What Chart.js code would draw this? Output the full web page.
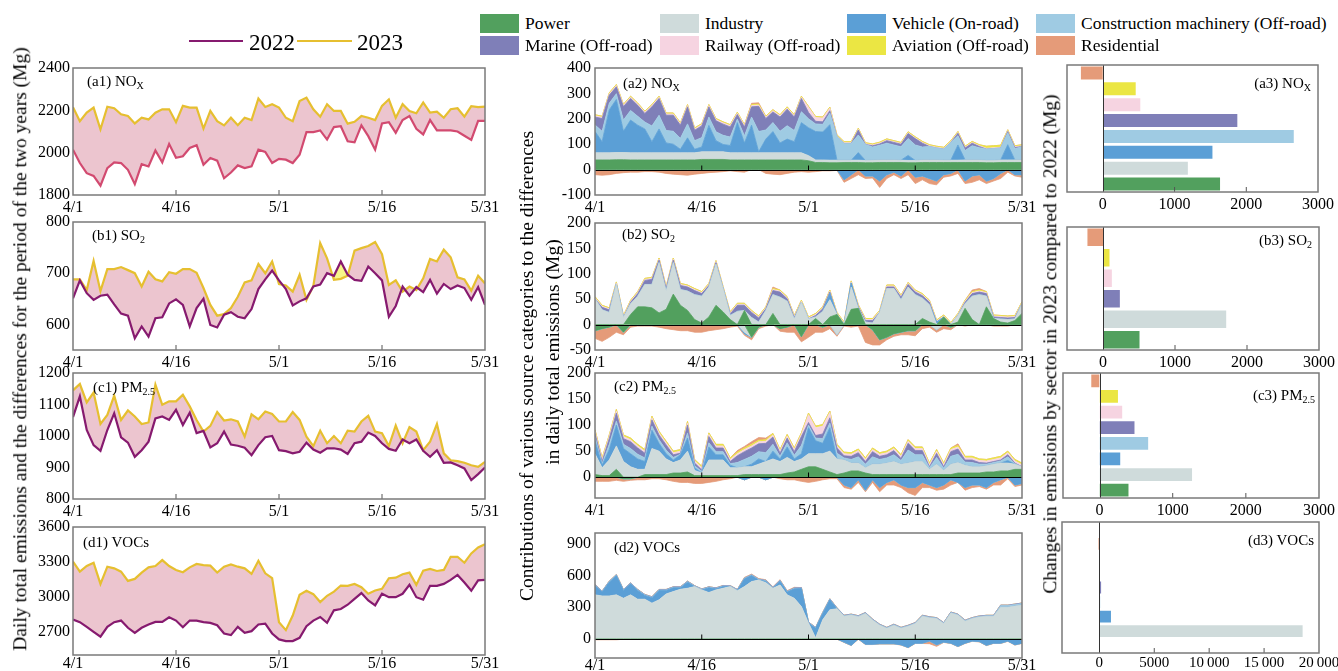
<!DOCTYPE html>
<html><head><meta charset="utf-8">
<script src="https://cdn.jsdelivr.net/npm/chart.js@4.4.1/dist/chart.umd.min.js"></script>
<style>
html,body{margin:0;padding:0;background:#fff;}
body{width:1338px;height:671px;position:relative;overflow:hidden;font-family:'Liberation Serif','Times New Roman',serif;color:#000;}
canvas{position:absolute;}
.lbl{position:absolute;font-size:15px;white-space:nowrap;line-height:1;transform:translateY(-50%);}
.lbl.r{transform:translate(-100%,-50%);}
.lbl sub{font-size:10px;vertical-align:-3px;line-height:0;}
.rot{position:absolute;white-space:nowrap;font-size:19.5px;line-height:1;transform:translate(-50%,-50%) rotate(-90deg);}
.lg{position:absolute;font-size:17.5px;white-space:nowrap;line-height:1;}
.lgbox{position:absolute;width:39px;height:19px;}
.yl{position:absolute;height:0;border-top:2.5px solid;}
.yt{position:absolute;font-size:23px;line-height:1;transform:translateY(-50%);}
</style>
</head><body>
<script>
// ---------- categories / tick labels ----------
const X_TICK_POS = [0, 15, 30, 45, 60];
const X_TICK_LBL = ['4/1', '4/16', '5/1', '5/16', '5/31'];
const SECTORS = ['Power','Industry','Vehicle (On-road)','Construction machinery (Off-road)','Marine (Off-road)','Railway (Off-road)','Aviation (Off-road)','Residential'];
const SECTOR_COLORS = ['#52a05e','#cfdbdb','#5b9fd6','#9fcbe3','#7f7fb8','#f6d4e1','#ebe643','#e59b79'];

// ---------- daily totals (Mg) ----------
const NOX_2022 = [2014,1951,1903,1890,1844,1927,1954,1951,1919,1851,1946,1935,2010,1954,2041,1976,1983,2022,2035,1943,1975,1962,1879,1906,1940,1927,1935,2014,2003,1951,1971,1967,1951,1990,2097,2097,2105,2062,2121,2125,2054,2049,2129,2078,2014,2138,2144,2094,2154,2173,2113,2086,2154,2105,2105,2105,2100,2080,2060,2150,2150];
const NOX_2023 = [2215,2149,2189,2213,2110,2217,2210,2181,2173,2138,2165,2157,2189,2205,2205,2144,2221,2213,2213,2114,2197,2149,2129,2165,2130,2165,2154,2256,2216,2229,2213,2165,2149,2244,2260,2205,2170,2229,2197,2197,2137,2146,2173,2165,2154,2221,2252,2165,2229,2197,2186,2237,2189,2194,2165,2205,2210,2170,2220,2215,2218];
const SO2_2022 = [651,686,661,648,656,658,639,621,617,573,596,576,612,614,641,649,638,596,632,650,599,594,619,624,615,612,630,669,688,705,686,669,637,645,651,674,678,700,695,723,697,687,685,713,700,686,615,636,674,656,673,663,687,660,679,669,676,671,648,673,638];
const SO2_2023 = [688,688,667,724,665,708,708,712,706,700,674,703,688,684,702,699,708,708,701,671,638,617,620,632,654,682,686,718,700,723,679,676,664,697,648,675,759,729,687,689,695,744,749,753,761,737,677,686,664,674,667,690,728,723,746,731,692,688,666,695,680];
const PM_2022 = [1060,1126,1019,971,953,1019,1072,996,979,934,955,982,1056,1062,1051,1083,1035,1074,1009,1016,964,977,1014,973,969,963,939,971,996,1000,955,952,945,950,979,957,947,961,961,957,943,977,982,1011,1000,977,959,953,989,977,989,953,934,955,915,916,907,897,860,879,900];
const PM_2023 = [1145,1165,1107,1138,1038,1067,1128,1051,1081,1062,1038,1043,1163,1099,1110,1110,1131,1094,1051,1014,1032,1076,1049,1053,1046,998,1069,1053,1078,1070,1046,1046,1076,1051,998,968,1017,977,1000,977,1017,1014,1046,1064,1014,1009,968,1033,977,1028,1014,955,982,1038,945,923,920,915,907,902,918];
const VOC_2022 = [2805,2782,2742,2699,2657,2742,2782,2796,2734,2690,2734,2762,2784,2784,2824,2796,2739,2796,2796,2782,2776,2756,2685,2671,2742,2690,2705,2762,2770,2685,2634,2620,2620,2648,2748,2796,2827,2776,2884,2895,2932,2983,3032,2969,2927,3026,2997,2997,3026,3103,2997,2975,3094,3094,3111,3145,3188,3123,3052,3142,3145];
const VOC_2023 = [3302,3216,3265,3293,3111,3259,3245,3216,3137,3154,3208,3253,3265,3316,3265,3231,3211,3253,3282,3273,3268,3208,3259,3279,3259,3245,3197,3310,3202,3160,2782,2714,2839,3018,3052,3023,2955,3009,3045,3097,3094,3111,3083,3026,3054,3069,3160,3165,3194,3208,3103,3225,3239,3222,3231,3344,3344,3293,3373,3424,3452];

// ---------- daily sector contributions to the differences (Mg) ----------
const NOX_POWER = [38,38,38,39,39,38,38,38,38,38,38,38,38,38,38,40,40,40,40,38,38,38,38,38,38,38,38,38,38,38,35,28,28,27,27,28,28,28,27,27,28,28,28,28,27,27,28,28,28,28,28,28,28,28,28,27,27,28,28,28,28];
const NOX_IND = [28,28,28,28,28,28,28,28,28,28,28,28,28,28,28,30,30,30,30,28,28,28,28,28,28,28,28,28,28,28,20,10,10,10,10,9,9,9,9,10,10,10,10,9,9,9,10,10,10,9,9,9,10,10,10,9,9,10,10,10,10];
const NOX_VEH = [84,44,169,209,84,129,109,94,44,94,39,34,14,59,14,19,104,44,29,29,119,39,109,4,54,84,39,54,44,119,110,112,110,140,0,-40,-20,30,-25,-25,-45,-20,-10,-25,20,-30,-25,-35,-45,-20,-15,60,-45,-25,-20,-45,-35,-15,60,-20,-20];
const NOX_CON = [26,41,26,23,44,38,35,27,62,54,49,51,43,55,34,37,33,35,36,33,14,28,32,80,36,35,46,53,44,43,35,30,30,45,93,66,66,69,63,52,58,66,59,53,66,61,51,53,47,44,70,36,37,56,48,45,47,47,47,44,53];
const NOX_MAR = [31,50,32,27,53,47,43,34,75,66,60,63,52,67,41,46,40,43,44,40,18,35,40,99,45,42,56,65,53,52,25,10,10,10,0,0,0,20,0,5,5,10,10,10,20,25,15,0,0,0,0,10,10,10,5,0,0,0,5,5,0];
const NOX_RAIL = [5,5,5,5,5,5,5,5,5,5,5,5,5,5,5,5,5,5,5,5,5,5,5,5,5,5,5,5,5,5,20,15,15,10,3,3,3,3,3,3,3,3,3,3,3,3,3,3,3,3,3,3,3,3,3,3,3,3,3,3,3];
const NOX_AVI = [4,4,4,4,4,4,4,4,4,4,4,4,4,4,4,4,4,4,4,4,4,4,4,4,4,4,4,4,4,4,4,4,4,4,4,4,4,4,4,4,4,4,4,4,4,4,4,4,4,4,4,4,4,4,4,8,8,8,4,4,4];
const NOX_RES = [-20,-22,-20,-15,-12,-10,-10,-8,-8,-10,-15,-18,-20,-22,-18,-15,-12,-10,-8,-5,-8,-10,5,5,-15,-18,-20,-15,-10,-8,-10,-8,-5,-5,-3,-10,-15,-20,-10,-8,-25,-15,-10,-10,-20,-25,-15,-20,-15,-10,-10,-15,-10,-25,-20,-10,-10,-20,-10,-5,-10];

const SO2_POWER = [-12,-8,-5,0,-15,20,35,35,33,23,30,60,38,28,10,3,15,38,25,10,0,28,-25,-5,0,22,-8,-5,0,-24,0,12,-5,15,20,0,30,32,0,-10,-30,-25,-18,-15,-12,-12,12,5,0,15,-5,5,32,10,0,35,12,5,3,8,22];
const SO2_IND = [51,29,24,80,14,21,21,44,46,99,36,62,31,38,49,53,59,81,46,8,26,-15,14,5,28,37,54,46,11,44,11,3,26,34,-20,1,44,0,5,3,24,71,71,49,74,59,40,34,-10,0,0,13,9,46,59,21,0,6,7,3,19];
const SO2_VEH = [0,0,0,0,0,0,0,0,0,0,0,0,0,0,0,0,0,0,0,0,0,-3,0,0,0,0,0,0,0,0,0,0,0,12,0,0,8,0,0,0,0,0,0,0,0,0,0,0,5,0,0,0,0,0,0,0,0,0,0,0,0];
const SO2_CON = [0,0,0,0,0,0,0,0,0,0,0,0,0,0,0,0,0,0,0,0,0,0,0,0,0,0,0,0,0,0,0,0,0,0,0,0,0,0,0,0,0,0,0,0,0,0,0,0,0,0,0,0,0,0,0,0,0,0,0,0,0];
const SO2_MAR = [0,5,5,0,0,3,5,8,10,5,5,5,8,8,8,5,3,3,0,3,12,10,10,8,3,8,10,5,3,0,0,3,5,3,0,0,0,3,3,5,0,3,3,5,5,5,5,5,0,0,0,0,3,5,5,5,3,3,3,3,0];
const SO2_RAIL = [2,2,2,2,2,2,2,2,2,2,2,2,2,2,2,2,2,2,2,2,2,2,2,2,2,2,2,2,2,2,2,2,2,2,2,2,2,2,2,2,2,2,2,2,2,2,2,2,2,2,2,2,2,2,2,2,2,2,2,2,2];
const SO2_AVI = [2,2,2,2,2,2,2,2,2,2,2,2,2,2,2,2,2,2,2,2,2,2,2,2,2,2,2,2,2,2,2,2,2,2,2,2,2,2,2,2,2,2,2,2,2,2,2,2,2,2,2,2,2,2,2,2,2,2,2,2,2];
const SO2_RES = [-15,-25,-20,-15,-5,-5,-3,-3,-3,-5,-8,-10,-12,-12,-15,-15,-12,-10,-8,-5,-3,-3,-5,-3,-3,3,-5,-10,-15,-10,-25,-15,-10,-8,-3,-3,-5,-3,-35,-30,-10,-5,-5,-5,-8,-10,-8,-5,-5,-8,-5,0,-3,3,3,0,-3,-3,-3,0,0];

const PM_POWER = [5,3,3,15,-3,-3,0,5,5,5,5,8,8,10,3,3,3,3,3,3,3,5,5,5,5,5,5,8,10,15,20,20,15,10,5,8,12,12,8,5,5,5,5,5,5,5,5,5,5,5,5,8,8,8,8,10,10,12,12,15,15];
const PM_IND = [40,15,30,45,30,20,15,10,50,45,30,20,25,40,10,5,30,30,30,15,15,15,15,20,25,30,25,30,20,20,25,25,30,40,30,25,15,15,10,20,20,22,25,20,22,25,25,10,20,8,20,20,15,12,12,12,15,15,15,10,5];
const PM_VEH = [25,5,20,40,25,25,20,15,35,15,10,5,10,25,5,0,25,10,10,5,0,-5,5,10,-5,15,5,20,5,10,50,25,20,45,0,-15,-20,-5,-25,-5,-20,-10,-5,-15,-20,-20,-10,-15,-20,-15,-5,-10,-20,-15,-15,-20,-10,-5,5,-15,-12];
const PM_CON = [7,3,10,8,8,10,9,7,8,7,7,5,1,10,4,3,8,6,6,3,10,14,15,14,17,13,5,8,7,16,5,5,9,9,11,4,7,12,7,14,9,10,13,7,25,13,13,3,13,4,15,16,6,8,5,3,3,4,7,1,0];
const PM_MAR = [7,4,11,15,11,13,12,9,12,9,10,5,2,15,5,3,12,7,7,4,13,15,16,15,18,14,6,9,7,17,5,5,9,10,10,4,6,8,5,10,6,6,8,4,13,8,8,2,8,3,9,10,4,5,3,2,2,2,4,1,0];
const PM_RAIL = [4,4,4,4,4,4,4,4,4,4,4,4,4,4,4,4,4,4,4,4,4,4,4,4,4,4,4,4,4,4,15,15,15,10,4,4,4,4,4,4,4,4,4,4,4,4,4,4,4,4,4,4,4,4,4,4,4,4,4,4,4];
const PM_AVI = [3,3,3,3,3,3,3,3,3,3,3,3,3,3,3,3,3,3,3,3,3,3,3,3,3,3,3,3,3,3,3,3,3,3,3,3,3,3,3,3,3,3,3,3,3,3,3,3,3,3,3,3,3,3,3,3,3,3,3,3,3];
const PM_RES = [-8,-8,-8,-6,-5,-3,-5,-5,-3,-3,-5,-8,-10,-10,-12,-12,-10,-8,-5,-3,3,3,5,5,3,0,-3,-5,-5,-8,-10,-8,-5,-3,-3,-5,-3,-5,-3,-5,-8,-5,-10,-5,-10,-15,-10,-5,-5,-8,-10,3,-5,-5,-3,-3,-5,-10,-3,-3,-3];

const VOC_POWER = [0,0,0,0,0,0,0,0,0,0,0,0,0,0,0,0,0,0,0,0,0,0,0,0,0,0,0,0,0,0,0,0,0,0,0,0,0,0,0,0,0,0,0,0,0,0,0,0,0,0,0,0,0,0,0,0,0,0,0,0,0];
const VOC_IND = [416,406,406,416,384,416,375,375,338,369,425,447,469,478,494,463,438,463,478,494,456,494,541,556,531,478,509,416,384,306,150,10,181,275,285,215,225,210,240,178,130,100,130,100,120,145,215,200,192,145,245,225,168,192,208,214,214,300,300,310,320];
const VOC_VEH = [88,36,130,182,74,104,83,36,51,89,33,36,14,58,0,0,45,10,17,0,2,73,57,0,14,0,36,26,89,170,0,90,60,95,0,-30,-60,0,-50,-50,-45,-45,-45,-55,-80,-40,-40,-20,-55,-30,-40,-70,-40,-20,-25,-60,-40,-40,-20,-55,-40];
const VOC_CON = [5,5,5,5,5,5,5,5,5,5,5,5,5,5,5,5,5,5,5,5,5,5,5,5,5,5,5,5,5,5,5,5,5,5,5,5,5,5,5,5,5,5,5,5,5,5,5,5,5,5,5,5,5,5,5,5,5,15,15,15,15];
const VOC_MAR = [4,4,4,4,4,4,4,4,4,4,4,4,4,4,4,4,4,4,4,4,4,4,4,4,4,4,4,4,4,4,4,4,4,4,4,4,4,4,4,4,4,4,4,4,4,4,4,4,4,4,4,4,4,4,4,4,4,4,4,4,4];
const VOC_RAIL = [0,0,0,0,0,0,0,0,0,0,0,0,0,0,0,0,0,0,0,0,0,0,0,0,0,0,0,0,0,0,0,0,0,0,0,0,0,0,0,0,0,0,0,0,0,0,0,0,0,0,0,0,0,0,0,0,0,0,0,0,0];
const VOC_AVI = [0,0,0,0,0,0,0,0,0,0,0,0,0,0,0,0,0,0,0,0,0,0,0,0,0,0,0,0,0,0,0,0,0,0,0,0,0,0,0,0,0,0,0,0,0,0,0,0,0,0,0,0,0,0,0,0,0,0,0,0,0];
const VOC_RES = [-8,-8,-8,-8,-3,-3,-3,-3,-3,-3,-3,-3,-3,-3,-3,-3,-3,-3,-3,-3,-3,5,5,5,5,5,5,5,5,-3,-5,-3,-3,-3,-3,-3,-3,-3,-3,-3,-3,-3,-3,-3,-3,-3,-3,-25,-15,-3,-3,-3,-3,-3,-3,-3,-3,-3,-3,-3,-3];

// ---------- total changes by sector (Mg), sector order as SECTORS ----------
const NOX_BAR = [1648,1199,1542,2676,1889,536,472,-320];
const SO2_BAR_IDX = [0,1,4,5,6,7];
const SO2_BAR = [521,1725,248,137,104,-230];
const PM_BAR = [409,1278,296,678,491,323,265,-127];
const VOC_BAR = [0,18600,1150,150,250,0,0,-150];

// ---------- helpers ----------
const FONT = "'Liberation Serif','Times New Roman',serif";
Chart.defaults.font.family = FONT;
Chart.defaults.font.size = 16;
Chart.defaults.color = '#000';
const PINK = '#ecc5cf', YFILL = '#f7f78a', C22 = '#861a6f', C22A = '#d24a70', C23 = '#e6bf30';

const deco = {
  id: 'deco',
  afterDatasetsDraw(chart, args, o) {
    const ctx = chart.ctx, a = chart.chartArea;
    ctx.save();
    ctx.lineWidth = 1; ctx.strokeStyle = '#000';
    if (o.hZero) {
      const y = Math.round(chart.scales.y.getPixelForValue(0)) + 0.5;
      ctx.beginPath(); ctx.moveTo(a.left, y); ctx.lineTo(a.right, y);
      (o.ticks || []).forEach(v => { const x = chart.scales.x.getPixelForValue(v); ctx.moveTo(x, y); ctx.lineTo(x, y - 5); });
      ctx.stroke();
    }
    if (o.vZero) {
      const x = Math.round(chart.scales.x.getPixelForValue(0)) + 0.5;
      ctx.strokeStyle = '#333';
      ctx.beginPath(); ctx.moveTo(x, a.top); ctx.lineTo(x, a.bottom); ctx.stroke();
    }
    if (o.bTicks) {
      ctx.strokeStyle = '#555';
      ctx.beginPath();
      o.bTicks.forEach(v => { const x = chart.scales.x.getPixelForValue(v); ctx.moveTo(x, a.bottom); ctx.lineTo(x, a.bottom - 5); });
      ctx.stroke();
    }
    ctx.strokeStyle = '#7a7a7a'; ctx.lineWidth = 1.5;
    ctx.strokeRect(a.left, a.top, a.right - a.left, a.bottom - a.top);
    ctx.restore();
  }
};
Chart.register(deco);

const L = 62, T = 14, R = 26, B = 30;
function mkCanvas(box) {
  const c = document.createElement('canvas');
  const w = box[2] - box[0] + L + R, h = box[3] - box[1] + T + B;
  c.width = w; c.height = h;
  c.style.left = (box[0] - L) + 'px'; c.style.top = (box[1] - T) + 'px';
  c.style.width = w + 'px'; c.style.height = h + 'px';
  document.body.appendChild(c);
  return c;
}
const baseOpts = () => ({
  responsive: false, animation: false, devicePixelRatio: 1,
  layout: { padding: { left: 0, top: T, right: R, bottom: 0 } },
  plugins: { legend: { display: false }, tooltip: { enabled: false } }
});
const NOGRID = { display: false, drawTicks: false };
const xDateScale = (pad) => ({
  type: 'linear', min: 0, max: 60,
  afterBuildTicks: s => { s.ticks = X_TICK_POS.map(v => ({ value: v })); },
  afterFit: s => { s.height = B; },
  ticks: { padding: pad, maxRotation: 0, callback: v => X_TICK_LBL[X_TICK_POS.indexOf(v)] },
  grid: NOGRID, border: { display: false }
});
const yScale = (min, max, ticks, pad, extra) => Object.assign({
  min, max,
  afterBuildTicks: s => { s.ticks = ticks.map(v => ({ value: v })); },
  afterFit: s => { s.width = L; },
  ticks: { padding: pad, callback: v => String(v) },
  grid: NOGRID, border: { display: false }
}, extra || {});
const pts = arr => arr.map((v, i) => ({ x: i, y: v }));

// ---------- column 1: totals ----------
[
  { box: [73, 68, 485, 195], a: NOX_2022, b: NOX_2023, min: 1800, max: 2400, t: [1800, 2000, 2200, 2400], c22: C22A, xp: 3 },
  { box: [73, 222, 485, 350], a: SO2_2022, b: SO2_2023, min: 550, max: 800, t: [600, 700, 800], c22: C22, xp: 3 },
  { box: [73, 373, 485, 499], a: PM_2022, b: PM_2023, min: 800, max: 1200, t: [800, 900, 1000, 1100, 1200], c22: C22, xp: 3 },
  { box: [73, 527, 485, 655], a: VOC_2022, b: VOC_2023, min: 2500, max: 3600, t: [2700, 3000, 3300, 3600], c22: C22, xp: -1 }
].forEach(p => {
  const o = baseOpts();
  o.scales = { x: xDateScale(p.xp), y: yScale(p.min, p.max, p.t, 3) };
  o.plugins.deco = { bTicks: [15, 30, 45] };
  new Chart(mkCanvas(p.box), {
    type: 'line',
    data: { datasets: [
      { label: '2022', data: pts(p.a), borderColor: p.c22, borderWidth: 2.2, pointRadius: 0, tension: 0, fill: false },
      { label: '2023', data: pts(p.b), borderColor: C23, borderWidth: 2.2, pointRadius: 0, tension: 0,
        fill: { target: 0, above: PINK, below: YFILL } }
    ] },
    options: o
  });
});

// ---------- column 2: stacked sector contributions ----------
function stackSets(series) {
  const ds = [];
  ['pos', 'neg'].forEach(st => {
    series.forEach((arr, k) => {
      ds.push({
        data: arr.map((v, i) => ({ x: i, y: st === 'pos' ? Math.max(v, 0) : Math.min(v, 0) })),
        stack: st, fill: k === 0 ? 'origin' : '-1',
        backgroundColor: SECTOR_COLORS[k], borderColor: SECTOR_COLORS[k],
        borderWidth: 0.8, pointRadius: 0, tension: 0
      });
    });
  });
  return ds;
}
[
  { box: [595, 68, 1022, 195], s: [NOX_POWER, NOX_IND, NOX_VEH, NOX_CON, NOX_MAR, NOX_RAIL, NOX_AVI, NOX_RES], min: -100, max: 400, t: [-100, 0, 100, 200, 300, 400], xp: 3 },
  { box: [595, 223, 1022, 350], s: [SO2_POWER, SO2_IND, SO2_VEH, SO2_CON, SO2_MAR, SO2_RAIL, SO2_AVI, SO2_RES], min: -50, max: 200, t: [-50, 0, 50, 100, 150, 200], xp: 3 },
  { box: [595, 373, 1022, 498], s: [PM_POWER, PM_IND, PM_VEH, PM_CON, PM_MAR, PM_RAIL, PM_AVI, PM_RES], min: -40, max: 200, t: [0, 50, 100, 150, 200], xp: 3 },
  { box: [595, 533, 1022, 658], s: [VOC_POWER, VOC_IND, VOC_VEH, VOC_CON, VOC_MAR, VOC_RAIL, VOC_AVI, VOC_RES], min: -180, max: 1000, t: [0, 300, 600, 900], xp: -2 }
].forEach(p => {
  const o = baseOpts();
  o.scales = { x: xDateScale(p.xp), y: yScale(p.min, p.max, p.t, 4, { stacked: true }) };
  o.plugins.deco = { hZero: true, ticks: [15, 30, 45] };
  new Chart(mkCanvas(p.box), { type: 'line', data: { datasets: stackSets(p.s) }, options: o });
});

// ---------- column 3: total change by sector ----------
const fmt = v => v >= 10000 ? String(v).replace(/(\d)(\d{3})$/, '$1\u2009$2') : String(v);
[
  { box: [1067, 65, 1318, 192], idx: [0,1,2,3,4,5,6,7], v: NOX_BAR, min: -500, max: 3000, t: [0, 1000, 2000, 3000], xp: 3, fs: 16 },
  { box: [1067, 227, 1319, 350], idx: SO2_BAR_IDX, v: SO2_BAR, min: -500, max: 3000, t: [0, 1000, 2000, 3000], xp: 3, fs: 16 },
  { box: [1063, 373, 1319, 498], idx: [0,1,2,3,4,5,6,7], v: PM_BAR, min: -500, max: 3000, t: [0, 1000, 2000, 3000], xp: 3, fs: 16 },
  { box: [1062, 522, 1319, 653], idx: [0,1,2,3,4,5,6,7], v: VOC_BAR, min: -3400, max: 20000, t: [0, 5000, 10000, 15000, 20000], pad: true, xp: 1, fs: 15 }
].forEach(p => {
  const labels = p.idx.map(i => SECTORS[i]);
  const data = p.v.slice();
  const cols = p.idx.map(i => SECTOR_COLORS[i]);
  if (p.pad) { labels.push(''); data.push(null); cols.push('#fff'); }
  const o = baseOpts();
  o.indexAxis = 'y';
  o.scales = {
    x: { type: 'linear', min: p.min, max: p.max,
      afterBuildTicks: s => { s.ticks = p.t.map(v => ({ value: v })); },
      afterFit: s => { s.height = B; },
      ticks: { padding: p.xp, maxRotation: 0, font: { size: p.fs }, callback: v => fmt(v) },
      grid: NOGRID, border: { display: false } },
    y: { type: 'category', reverse: true, afterFit: s => { s.width = L; },
      ticks: { display: false }, grid: NOGRID, border: { display: false } }
  };
  o.plugins.deco = { vZero: true, bTicks: p.t.slice(1, -1) };
  new Chart(mkCanvas(p.box), {
    type: 'bar',
    data: { labels, datasets: [{ data, backgroundColor: cols, borderColor: 'rgba(255,255,255,0.6)', borderWidth: 1, barPercentage: 0.95, categoryPercentage: 1 }] },
    options: o
  });
});

// ---------- text: panel labels, axis titles, legends ----------
function addHTML(html) { document.body.insertAdjacentHTML('beforeend', html); }
const PANEL_LABELS = [
  ['(a1) NO<sub>X</sub>', 87, 81, ''], ['(b1) SO<sub>2</sub>', 92, 235, ''], ['(c1) PM<sub>2.5</sub>', 93, 387, ''], ['(d1) VOCs', 83, 542, ''],
  ['(a2) NO<sub>X</sub>', 623, 83, ''], ['(b2) SO<sub>2</sub>', 622, 234, ''], ['(c2) PM<sub>2.5</sub>', 614, 386, ''], ['(d2) VOCs', 614, 547, ''],
  ['(a3) NO<sub>X</sub>', 1311, 83, 'r'], ['(b3) SO<sub>2</sub>', 1312, 240, 'r'], ['(c3) PM<sub>2.5</sub>', 1315, 395, 'r'], ['(d3) VOCs', 1314, 540, 'r']
];
PANEL_LABELS.forEach(([t, x, y, c]) => addHTML(`<div class="lbl ${c}" style="left:${x}px;top:${y}px">${t}</div>`));

addHTML(`<div class="rot" style="left:20px;top:349px">Daily total emissions and the differences for the period of the two years (Mg)</div>`);
addHTML(`<div class="rot" style="left:527px;top:366px">Contributions of various source categories to the differences</div>`);
addHTML(`<div class="rot" style="left:553px;top:352px">in daily total emissions (Mg)</div>`);
addHTML(`<div class="rot" style="left:1050px;top:344px">Changes in emissions by sector in 2023 compared to 2022 (Mg)</div>`);

// year legend
addHTML(`<div class="yl" style="left:189px;top:40px;width:54px;border-color:${C22}"></div><div class="yt" style="left:249px;top:42px">2022</div>`);
addHTML(`<div class="yl" style="left:297px;top:40px;width:55px;border-color:${C23}"></div><div class="yt" style="left:357px;top:42px">2023</div>`);

// sector legend
const LG_X = [480, 660, 847, 1036], LG_Y = [14, 36];
SECTORS.forEach((s, k) => {
  const x = LG_X[k % 4], y = LG_Y[Math.floor(k / 4)];
  addHTML(`<div class="lgbox" style="left:${x}px;top:${y}px;background:${SECTOR_COLORS[k]}"></div><div class="lg" style="left:${x + 45}px;top:${y + 1}px">${s}</div>`);
});
</script>
</body></html>
